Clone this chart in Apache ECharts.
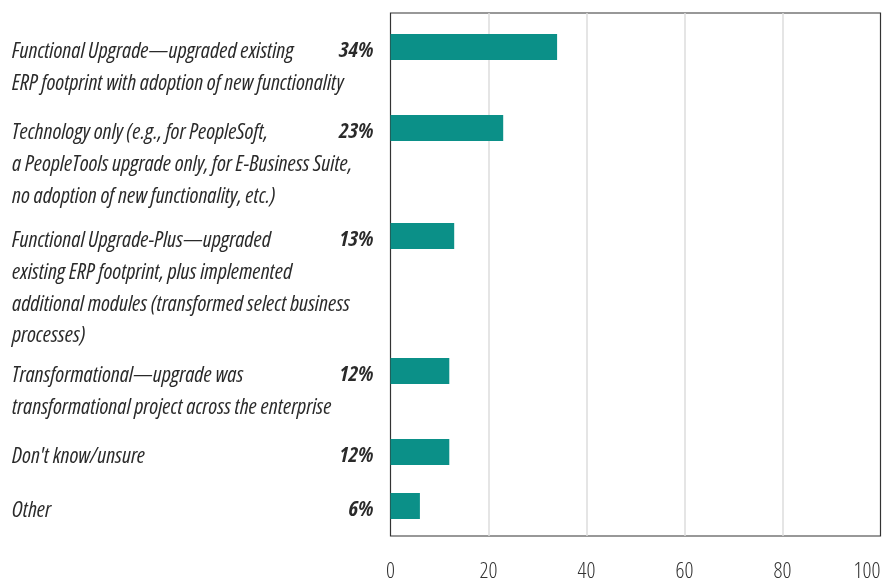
<!DOCTYPE html>
<html>
<head>
<meta charset="utf-8">
<script src="https://cdn.jsdelivr.net/npm/echarts@6/dist/echarts.min.js"></script>
<style>
html,body{margin:0;padding:0;background:#fff;}
#chart{width:895px;height:583px;}
</style>
</head>
<body>
<div id="chart"></div>
<script>
// ---- data ----
const categories = [
  'Functional Upgrade\u2014upgraded existing\nERP footprint with adoption of new functionality',
  'Technology only (e.g., for PeopleSoft,\na PeopleTools upgrade only, for E-Business Suite,\nno adoption of new functionality, etc.)',
  'Functional Upgrade-Plus\u2014upgraded\nexisting ERP footprint, plus implemented\nadditional modules (transformed select business\nprocesses)',
  'Transformational\u2014upgrade was\ntransformational project across the enterprise',
  "Don't know/unsure",
  'Other'
];
const values = [34, 23, 13, 12, 12, 6];
const xMin = 0, xMax = 100, xStep = 20;

// ---- build rows: each label takes (lines + 1) rows on the category axis ----
const rowCats = [];
const rowVals = [];
categories.forEach((c, i) => {
  rowCats.push(c);
  rowVals.push(values[i]);
  if (i < categories.length - 1) {
    const lines = c.split('\n').length;
    for (let k = 0; k < lines; k++) {
      rowCats.push(' '.repeat(rowCats.length));
      rowVals.push('-');
    }
  }
});

const FONT = "'Open Sans', 'Roboto Condensed', sans-serif";
const chart = echarts.init(document.getElementById('chart'), null, {renderer: 'canvas'});
const option = {
  animation: false,
  backgroundColor: '#fff',
  grid: [
    {left: 390.5, right: 14.5, top: 13, bottom: 42, show: true, borderColor: '#333', borderWidth: 1.2, backgroundColor: 'transparent'},
    {left: 390.5, right: 14.5, top: 33.5, height: 486}
  ],
  xAxis: [
    {
      gridIndex: 0, type: 'value', min: xMin, max: xMax, interval: xStep,
      axisLine: {show: false}, axisTick: {show: false},
      splitLine: {show: true, showMinLine: false, showMaxLine: false, lineStyle: {color: '#dcdcdc', width: 1.5}},
      axisLabel: {margin: 25, fontSize: 22, color: '#333', fontFamily: FONT, fontWeight: 300, fontStyle: 'normal condensed', alignMaxLabel: 'right'}
    },
    {gridIndex: 1, type: 'value', min: xMin, max: xMax, show: false}
  ],
  yAxis: [
    {gridIndex: 0, type: 'value', show: false},
    {
      gridIndex: 1, type: 'category', inverse: true, data: rowCats,
      axisLine: {show: false}, axisTick: {show: false}, splitLine: {show: false},
      axisLabel: {
        interval: 0, margin: 378.5, align: 'left', verticalAlign: 'top',
        padding: [-11, 0, 0, 0],
        fontSize: 22, lineHeight: 31.7, fontStyle: 'italic condensed', fontWeight: 'normal',
        color: '#2a2a2a', fontFamily: FONT
      }
    }
  ],
  series: [{
    type: 'bar', xAxisIndex: 1, yAxisIndex: 1, data: rowVals, barWidth: 26,
    itemStyle: {color: '#0b9088'},
    label: {
      show: true, position: 'left', distance: 17, offset: [0, 4],
      formatter: p => p.value + '%',
      fontStyle: 'italic condensed', fontWeight: 'bold', fontSize: 22, color: '#2a2a2a', fontFamily: FONT
    }
  }]
};
chart.setOption(option);
</script>
</body>
</html>
